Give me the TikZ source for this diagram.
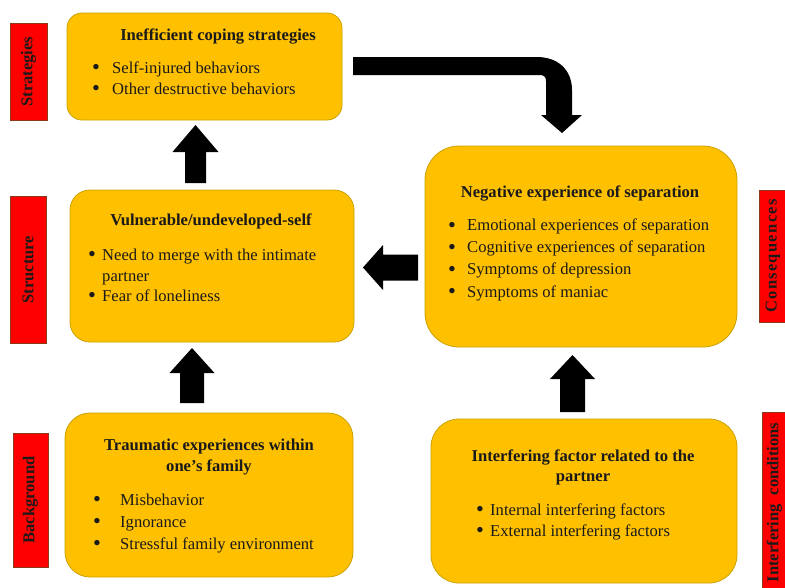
\documentclass[tikz,border=0pt]{standalone}
\usepackage{fontspec}
\setmainfont{Liberation Serif}
\usetikzlibrary{calc}
\definecolor{gold}{HTML}{FFC000}
\definecolor{goldline}{HTML}{C9A200}
\definecolor{lblred}{HTML}{FF0000}
\definecolor{lbledge}{HTML}{8C3A1A}
\definecolor{ink}{HTML}{1A1A1A}
\tikzset{
  box/.style={fill=gold, draw=goldline, line width=0.8pt, inner sep=0pt},
  lbl/.style={fill=lblred, draw=lbledge, line width=0.8pt, rotate=90, inner sep=0pt,
    font=\fontsize{16.5}{20}\selectfont\bfseries, text=ink},
  ttl/.style={font=\fontsize{16.6}{21}\selectfont\bfseries, anchor=base, inner sep=0pt, text=ink},
  itx/.style={font=\fontsize{16.6}{21}\selectfont, anchor=base west, inner sep=0pt, text=ink},
  bul/.style={font=\fontsize{16.6}{21}\selectfont, anchor=base, inner sep=0pt, text=ink},
  blk/.style={fill=black},
}
% bullet item: name, bullet x, text x, baseline y, text
\newcommand\myitem[5]{%
  \node[bul] (#1b) at (#2,#4) {\raisebox{-1.6pt}{\scalebox{1.35}{\textbullet}}};
  \node[itx] (#1) at (#3,#4) {#5};}
% block arrow pointing along local +x: base coord, rotation, length, head length, head half width, shaft half width
\newcommand\myblock[6]{%
  \fill[blk, shift={(#1)}, rotate=#2]
    (0,-#6) -- (#3-#4,-#6) -- (#3-#4,-#5) -- (#3,0) -- (#3-#4,#5) -- (#3-#4,#6) -- (0,#6) -- cycle;}
\begin{document}
\begin{tikzpicture}[x=1pt,y=-1pt]
\useasboundingbox (0,0) rectangle (785,587);
\fill[white] (0,0) rectangle (785,587);

% boxes
\node[box, rounded corners=15pt, minimum width=275pt, minimum height=107pt] (s) at (204.5,66.5) {};
\node[box, rounded corners=20pt, minimum width=284pt, minimum height=152pt] (v) at (212,266) {};
\node[box, rounded corners=25pt, minimum width=288pt, minimum height=164pt] (t) at (209,495) {};
\node[box, rounded corners=34pt, minimum width=312pt, minimum height=201pt] (n) at (581,246.5) {};
\node[box, rounded corners=28pt, minimum width=306pt, minimum height=164pt] (i) at (584,501) {};

% side labels
\node[lbl, minimum width=97pt, minimum height=37pt] (ls) at (28.5,71.5) {Strategies};
\node[lbl, minimum width=147pt, minimum height=36pt] (lv) at (28,269.5) {Structure};
\node[lbl, minimum width=134pt, minimum height=35pt] (lt) at (30.5,500) {Background};
\node[lbl, minimum width=132pt, minimum height=28pt] (ln) at (773,256) {\addfontfeatures{LetterSpace=8}Consequences};
\node[lbl, minimum width=180pt, minimum height=25pt] (li) at (774.5,502.5) {Interfering\hspace{9pt}conditions};

% strategies box
\node[ttl] (st) at (218,40) {Inefficient coping strategies};
\myitem{s1}{96}{112}{73}{Self-injured behaviors}
\myitem{s2}{96}{112}{94}{Other destructive behaviors}

% vulnerable box
\node[ttl] (vt) at (211,225) {Vulnerable/undeveloped-self};
\myitem{v1}{92}{102}{260}{Need to merge with the intimate}
\node[itx] (v1b2) at (102,281) {partner};
\myitem{v2}{92}{102}{301}{Fear of loneliness}

% traumatic box
\node[ttl] (tt1) at (209,450) {Traumatic experiences within};
\node[ttl] (tt2) at (209,471) {one’s family};
\myitem{t1}{97}{120}{505}{Misbehavior}
\myitem{t2}{97}{120}{527}{Ignorance}
\myitem{t3}{97}{120}{549}{Stressful family environment}

% negative box
\node[ttl] (nt) at (580,197) {Negative experience of separation};
\myitem{n1}{452}{467}{230.5}{Emotional experiences of separation}
\myitem{n2}{452}{467}{252.5}{Cognitive experiences of separation}
\myitem{n3}{452}{467}{274.5}{Symptoms of depression}
\myitem{n4}{452}{467}{297}{Symptoms of maniac}

% interfering box
\node[ttl] (it1) at (583,461) {Interfering factor related to the};
\node[ttl] (it2) at (583,481) {partner};
\myitem{i1}{480}{490}{515}{Internal interfering factors}
\myitem{i2}{480}{490}{536}{External interfering factors}

% block arrows
\coordinate (a1) at (195.5,183);
\coordinate (a2) at (192,403);
\coordinate (a3) at (572.5,412);
\coordinate (a4) at (418,267.5);
\myblock{a1}{90}{58}{27}{23}{10.5}
\myblock{a2}{90}{55}{25}{22.5}{12}
\myblock{a3}{90}{57}{24}{22.5}{12.5}
\myblock{a4}{180}{55}{20}{22.5}{13}

% bent arrow from strategies to negative experience
\coordinate (bs) at (353,57);
\coordinate (bt) at (562,133);
\fill[blk] (bs) -- (537,57) .. controls (558,57) and (572,70) .. (572,90)
  -- (572,115) -- (582,115) -- (bt) -- (541,115) -- (546,115) -- (546,81)
  .. controls (546,77) and (544,75) .. (540,75) -- (353,75) -- cycle;
\end{tikzpicture}
\end{document}
